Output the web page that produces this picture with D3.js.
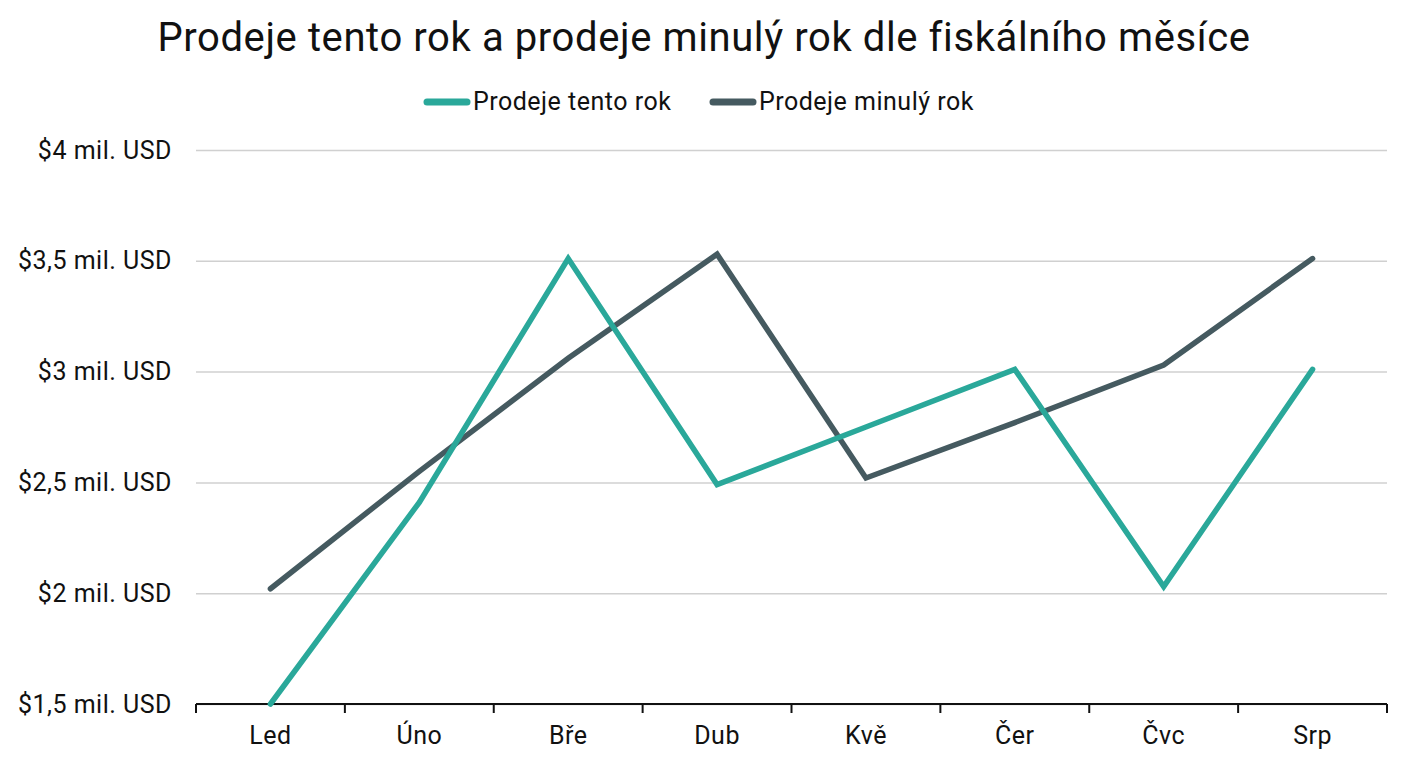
<!DOCTYPE html>
<html><head><meta charset="utf-8">
<script src="https://cdn.jsdelivr.net/npm/d3@7"></script>
<style>body{margin:0;background:#fff;font-family:Roboto,"Noto Sans",sans-serif;}</style>
</head><body><svg id="c" width="1408" height="768"></svg>
<script>
const months = ["Led","Úno","Bře","Dub","Kvě","Čer","Čvc","Srp"];
const thisYear = [1.50, 2.41, 3.51, 2.49, 2.75, 3.01, 2.03, 3.01];
const lastYear = [2.02, 2.55, 3.06, 3.53, 2.52, 2.77, 3.03, 3.51];
const yTicks = [1.5, 2, 2.5, 3, 3.5, 4];
const seriesNames = ["Prodeje tento rok","Prodeje minulý rok"];
const colors = ["#2aa89a","#455a60"];
const title = "Prodeje tento rok a prodeje minulý rok dle fiskálního měsíce";

const svg = d3.select("#c");
const m = {l:196, r:1387, t:150, b:704};
const x = d3.scaleBand().domain(months).range([m.l, m.r]);
const y = d3.scaleLinear().domain([1.5, 4]).range([m.b, m.t]);
const fmt = v => "$" + String(v).replace(".", ",") + " mil. USD";

svg.append("text").attr("x", 704).attr("y", 51).attr("text-anchor","middle")
  .attr("font-size", 40).attr("letter-spacing", 0.6).attr("fill","#111").text(title);

// legend
const lg = svg.append("g");
const items = [{x:427, n:seriesNames[0], c:colors[0]},{x:713, n:seriesNames[1], c:colors[1]}];
items.forEach(it=>{
  lg.append("line").attr("x1", it.x).attr("x2", it.x+40).attr("y1",102).attr("y2",102)
    .attr("stroke", it.c).attr("stroke-width",7).attr("stroke-linecap","round");
  lg.append("text").attr("x", it.x+46).attr("y", 110).attr("font-size", 25).attr("letter-spacing", 0.5)
    .attr("fill","#111").text(it.n);
});

// grid
const ga = svg.append("g").attr("transform",`translate(${m.l},0)`)
  .call(d3.axisLeft(y).tickValues(yTicks).tickSize(-(m.r-m.l)).tickFormat(fmt).tickPadding(24));
ga.select(".domain").remove();
ga.selectAll(".tick line").attr("stroke","#d0d0d0").attr("stroke-width",1.5);
ga.selectAll(".tick text").attr("font-size",25).attr("letter-spacing",0.5).attr("fill","#111").attr("font-family","Roboto");

// x axis
const xa = svg.append("g").attr("transform",`translate(0,${m.b})`)
  .call(d3.axisBottom(x).tickSize(0).tickPadding(22));
xa.select(".domain").attr("stroke","#111").attr("stroke-width",2).attr("d",`M${m.l},0H${m.r}`);
xa.selectAll(".tick text").attr("font-size",25).attr("letter-spacing",0.5).attr("fill","#111").attr("font-family","Roboto");
const bounds = months.map(d=>x(d)).concat([m.r]);
xa.selectAll(".bt").data(bounds).enter().append("line").attr("class","bt")
  .attr("x1",d=>d).attr("x2",d=>d).attr("y1",0).attr("y2",9).attr("stroke","#111").attr("stroke-width",2);

const line = d3.line().x((d,i)=>x(months[i])+x.bandwidth()/2).y(d=>y(d));
[lastYear, thisYear].forEach((s,k)=>{
  svg.append("path").attr("d", line(s)).attr("fill","none")
    .attr("stroke", k===0?colors[1]:colors[0]).attr("stroke-width",5.5)
    .attr("stroke-linejoin","miter").attr("stroke-linecap","round");
});
</script></body></html>
